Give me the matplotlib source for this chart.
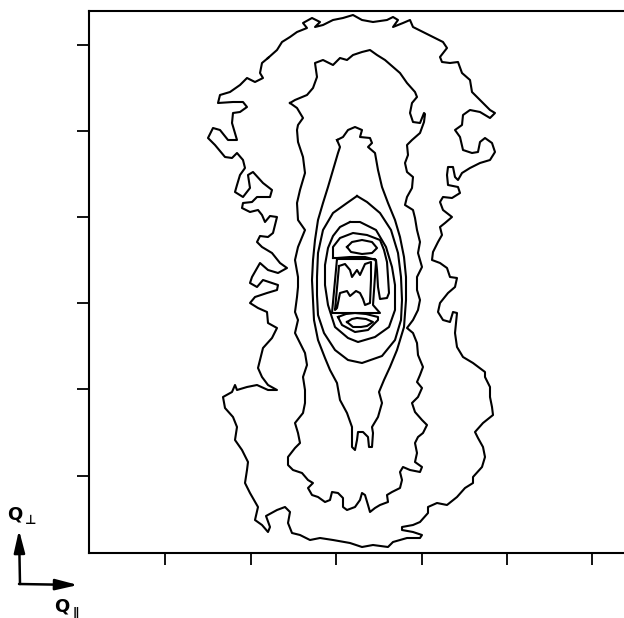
import matplotlib.pyplot as plt

# contour traces (x to the right, y downward, reference pixel units)
contour_1 = [
    (268, 58), (277, 50), (282, 42), (290, 37), (297, 32), (307, 28), (303, 23), (312, 18), (320, 22),
    (315, 27), (323, 25), (333, 20), (343, 18), (353, 15), (362, 20), (373, 22), (387, 20), (393, 17),
    (398, 20), (393, 27), (403, 23), (410, 20), (413, 27), (423, 32), (433, 37), (443, 42), (447, 48),
    (440, 57), (442, 62), (450, 63), (458, 62), (462, 73), (470, 80), (472, 92), (480, 100), (490, 110),
    (495, 113), (490, 118), (480, 112), (470, 110), (463, 115), (462, 125), (455, 130), (460, 137),
    (463, 150), (472, 153), (478, 152), (480, 142), (485, 138), (492, 143), (495, 152), (490, 160),
    (480, 163), (470, 168), (462, 173), (458, 180), (455, 177), (453, 167), (448, 167), (447, 175),
    (448, 185), (458, 187), (460, 193), (452, 198), (443, 197), (440, 202), (443, 210), (452, 217),
    (445, 223), (440, 227), (442, 235), (438, 242), (433, 252), (432, 260), (440, 263), (447, 268),
    (450, 277), (457, 278), (455, 287), (448, 293), (440, 303), (438, 312), (443, 320), (450, 322),
    (453, 312), (457, 313), (455, 333), (457, 347), (463, 357), (473, 363), (485, 372), (485, 377),
    (490, 387), (490, 397), (492, 407), (493, 415), (483, 423), (475, 432), (478, 438), (483, 447),
    (485, 457), (482, 467), (473, 477), (473, 483), (465, 488), (457, 497), (447, 505), (437, 503),
    (428, 507), (428, 513), (420, 522), (413, 525), (402, 527), (402, 530), (413, 532), (422, 535),
    (420, 538), (407, 538), (393, 542), (388, 547), (373, 545), (362, 547), (350, 543), (333, 540),
    (320, 538), (310, 540), (300, 535), (292, 533), (288, 523), (290, 512), (285, 507), (277, 510),
    (266, 516), (270, 527), (268, 532), (262, 525), (255, 520), (258, 507), (250, 493), (245, 483),
    (247, 470), (248, 462), (242, 450), (235, 440), (237, 427), (233, 417), (225, 408), (223, 397),
    (232, 392), (235, 385), (237, 390), (247, 387), (257, 385), (268, 390), (277, 390), (268, 385),
    (262, 377), (258, 368), (260, 360), (263, 348), (272, 338), (277, 328), (268, 323), (267, 312),
    (258, 308), (250, 303), (255, 297), (267, 293), (277, 290), (278, 285), (263, 280), (257, 287),
    (250, 283), (252, 277), (260, 263), (268, 270), (278, 273), (287, 268), (280, 263), (272, 253),
    (262, 247), (257, 242), (260, 236), (268, 237), (273, 233), (277, 217), (270, 216), (265, 222),
    (262, 215), (258, 210), (250, 212), (242, 208), (243, 203), (252, 202), (257, 197), (270, 197),
    (272, 190), (263, 183), (253, 172), (248, 175), (250, 188), (243, 197), (235, 192), (237, 185),
    (240, 175), (245, 168), (243, 160), (237, 153), (232, 158), (225, 157), (215, 145), (208, 138),
    (213, 128), (220, 130), (228, 140), (237, 140), (232, 123), (233, 113), (240, 112), (247, 107),
    (243, 102), (233, 102), (218, 103), (220, 95), (230, 92), (240, 85), (247, 78), (255, 82),
    (263, 78), (260, 73), (262, 63),
]

contour_2 = [
    (290, 103), (295, 100), (307, 95), (313, 88), (317, 77), (315, 63), (323, 60), (333, 65), (340, 58),
    (347, 60), (353, 55), (362, 52), (370, 50), (377, 55), (385, 60), (393, 67), (400, 73), (407, 83),
    (415, 92), (417, 97), (412, 103), (410, 113), (413, 122), (420, 123), (424, 113), (425, 114),
    (424, 122), (420, 133), (412, 140), (407, 145), (408, 155), (405, 163), (407, 172), (413, 177),
    (412, 188), (407, 197), (405, 205), (413, 210), (415, 218), (417, 230), (420, 242), (418, 253),
    (422, 267), (417, 277), (417, 290), (420, 300), (418, 310), (413, 320), (407, 328), (413, 333),
    (417, 343), (418, 355), (423, 367), (420, 375), (417, 382), (422, 388), (418, 397), (412, 403),
    (415, 412), (422, 420), (427, 425), (423, 433), (418, 437), (415, 443), (417, 453), (415, 462),
    (422, 467), (420, 472), (410, 470), (403, 467), (400, 472), (402, 480), (400, 488), (392, 492),
    (387, 495), (388, 502), (380, 505), (375, 508), (370, 512), (368, 505), (365, 495), (362, 493),
    (360, 500), (355, 507), (347, 510), (343, 507), (343, 498), (338, 493), (332, 492), (330, 500),
    (325, 502), (318, 497), (312, 495), (308, 488), (313, 483), (308, 480), (302, 473), (293, 470),
    (288, 465), (288, 457), (295, 448), (300, 443), (298, 433), (295, 423), (303, 413), (305, 403),
    (305, 390), (303, 377), (307, 365), (305, 353), (300, 343), (295, 333), (298, 320), (295, 312),
    (297, 297), (298, 287), (298, 277), (295, 260), (298, 247), (305, 230), (298, 220), (297, 203),
    (300, 190), (305, 173), (303, 157), (298, 142), (297, 130), (298, 125), (303, 118), (297, 108),
]

contour_3 = [
    (337, 140), (343, 137), (348, 130), (355, 127), (362, 130), (360, 137), (370, 138), (372, 143),
    (368, 147), (375, 153), (378, 170), (382, 187), (388, 203), (395, 220), (400, 237), (404, 257),
    (406, 277), (406, 300), (404, 327), (397, 350), (390, 367), (384, 380), (379, 392), (382, 403),
    (378, 417), (372, 427), (373, 433), (372, 447), (369, 447), (368, 437), (363, 432), (358, 432),
    (357, 440), (355, 450), (352, 447), (352, 427), (347, 413), (340, 400), (337, 383), (330, 370),
    (325, 358), (318, 340), (314, 320), (313, 300), (312, 280), (313, 260), (315, 240), (318, 220),
    (323, 203), (328, 187), (333, 170), (338, 153), (340, 147),
]

contour_4 = [
    (357, 196), (367, 202), (380, 213), (391, 230), (398, 253), (401, 277), (402, 300), (401, 320),
    (395, 340), (382, 356), (362, 363), (348, 360), (335, 350), (324, 333), (318, 315), (317, 295),
    (317, 277), (318, 253), (323, 230), (333, 213), (347, 203),
]

contour_5 = [
    (350, 222), (360, 222), (376, 230), (386, 247), (392, 267), (395, 285), (395, 310), (389, 327),
    (375, 337), (358, 342), (348, 338), (335, 327), (328, 305), (325, 285), (325, 265), (328, 248),
    (333, 236), (340, 227),
]

contour_6 = [
    (333, 258), (333, 247), (340, 238), (353, 233), (367, 235), (380, 240), (384, 250), (387, 262),
    (388, 277), (389, 293), (387, 298), (380, 299), (378, 287), (377, 270), (376, 260), (365, 257),
    (350, 257), (337, 258),
]

peak_top = [
    (347, 247), (352, 242), (362, 240), (372, 242), (377, 248), (372, 253), (362, 254), (351, 252),
]

block_outer = [(337, 259), (375, 259), (376, 262), (373, 305), (380, 313), (332, 313)]

block_inner = [
    (339, 266), (345, 264), (350, 270), (352, 277), (357, 270), (360, 275), (365, 264), (371, 262),
    (371, 280), (370, 303), (365, 305), (363, 299), (360, 293), (356, 291), (350, 296), (347, 291),
    (340, 293), (337, 308), (335, 310),
]

lens_outer = [
    (338, 317), (346, 314), (355, 313), (366, 314), (378, 317), (378, 320), (368, 330), (355, 332),
    (342, 325),
]

lens_inner = [
    (347, 322), (352, 319), (357, 318), (366, 319), (373, 322), (367, 326), (361, 327), (353, 327),
]

contours = [contour_1, contour_2, contour_3, contour_4, contour_5, contour_6,
            peak_top, block_outer, block_inner, lens_outer, lens_inner]

x_ticks = [165.4, 250.8, 336.2, 421.6, 507.0, 592.4]
y_ticks = [45, 131, 217, 303, 389, 476]

fig = plt.figure(figsize=(6.24, 6.18), dpi=100)
ax = fig.add_axes([89 / 624, 65 / 618, 535 / 624, 542 / 618])

for c in contours:
    pts = c + [c[0]]
    xs = [p[0] for p in pts]
    ys = [p[1] for p in pts]
    ax.plot(xs, ys, color='black', lw=1.5, solid_joinstyle='round')

ax.set_xlim(89, 624)
ax.set_ylim(553, 11)
ax.set_xticks(x_ticks)
ax.set_yticks(y_ticks)
ax.set_xticklabels([])
ax.set_yticklabels([])
ax.tick_params(direction='out', length=8.5, width=1.3, color='black')
for side in ['left', 'bottom', 'top']:
    ax.spines[side].set_linewidth(1.5)
ax.spines['right'].set_visible(False)

# axis direction key, bottom left
arrow = dict(arrowstyle='-|>,head_length=0.9,head_width=0.22', lw=1.8, color='black',
             mutation_scale=15, shrinkA=0, shrinkB=0)
ax.annotate('', xy=(19, 88), xytext=(20, 34), xycoords='figure pixels',
            textcoords='figure pixels', arrowprops=arrow, annotation_clip=False)
ax.annotate('', xy=(78, 33), xytext=(19, 34), xycoords='figure pixels',
            textcoords='figure pixels', arrowprops=arrow, annotation_clip=False)
lab = dict(fontsize=13, fontweight='bold', family='DejaVu Sans', ha='left', va='baseline')
sub = dict(fontsize=9, fontweight='bold', family='DejaVu Sans', ha='left', va='baseline')
fig.text(7 / 624, 98 / 618, 'Q', **lab)
fig.text(25 / 624, 94 / 618, '\u22a5', **sub)
fig.text(54 / 624, 7 / 618, 'Q', **lab)
fig.text(73 / 624, 2 / 618, '\u2225', **sub)

fig.savefig('out.png', dpi=100)
